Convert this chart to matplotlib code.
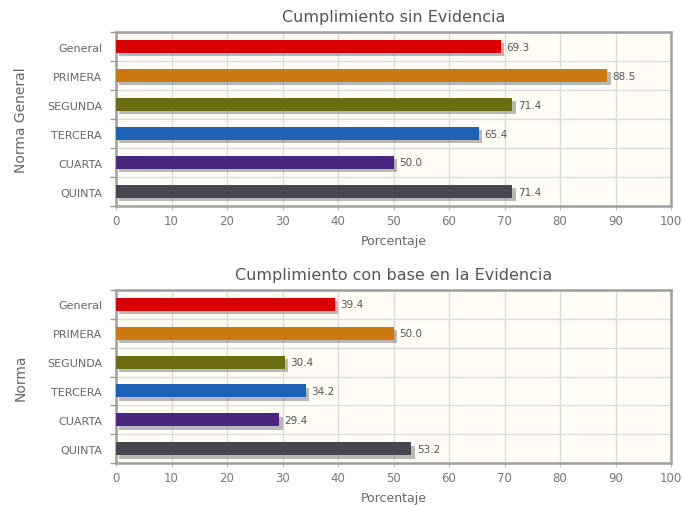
import matplotlib.pyplot as plt
import matplotlib.patheffects as pe
import numpy as np

# Data
categorias = ["General", "PRIMERA", "SEGUNDA", "TERCERA", "CUARTA", "QUINTA"]
sin_evidencia = [69.3, 88.5, 71.4, 65.4, 50.0, 71.4]
con_evidencia = [39.4, 50.0, 30.4, 34.2, 29.4, 53.2]
colores = ["#d80000", "#cc7a10", "#6b6e10", "#1e62b6", "#4a2683", "#48464f"]
x_ticks = list(range(0, 101, 10))

paneles = [
    ("Cumplimiento sin Evidencia", "Norma General", sin_evidencia),
    ("Cumplimiento con base en la Evidencia", "Norma", con_evidencia),
]

fig = plt.figure(figsize=(6.82, 5.06), dpi=100)
W, H = 682, 506
# axes boxes in pixels: left, top, right, bottom
boxes = [(116, 33, 671, 207), (116, 291, 671, 464)]

shadow = [pe.SimplePatchShadow(offset=(2.5, -2.5), shadow_rgbFace="#666666", alpha=0.45),
          pe.Normal()]

for (titulo, ylabel, valores), (l, t, r, b) in zip(paneles, boxes):
    ax = fig.add_axes([l / W, 1 - b / H, (r - l) / W, (b - t) / H])
    ax.set_facecolor("#fffdf6")
    y = np.arange(len(categorias))
    bars = ax.barh(y, valores, height=0.45, color=colores, zorder=3)
    for bar in bars:
        bar.set_path_effects(shadow)
    for yi, v in zip(y, valores):
        ax.text(v + 1.0, yi, f"{v:.1f}", va="center", ha="left",
                fontsize=7.5, color="#555555", zorder=4)

    ax.set_xlim(0, 100)
    ax.set_ylim(len(categorias) - 0.5, -0.5)
    ax.set_xticks(x_ticks)
    ax.set_yticks(y)
    ax.set_yticklabels(categorias)
    ax.set_yticks(np.arange(-0.5, len(categorias), 1.0), minor=True)
    ax.grid(True, axis="x", which="major", color="#dcdcdc", linewidth=1, zorder=0)
    ax.grid(True, axis="y", which="minor", color="#dcdcdc", linewidth=1, zorder=0)
    ax.tick_params(axis="y", which="major", length=0, pad=10, labelsize=8,
                   labelcolor="#666666")
    ax.tick_params(axis="y", which="minor", length=4, color="#999999", width=1)
    ax.tick_params(axis="x", which="major", length=3, color="#bbbbbb",
                   labelsize=8.5, labelcolor="#777777", pad=3)
    for s in ax.spines.values():
        s.set_color("#a0a0a0")
        s.set_linewidth(1.8)

    ax.set_title(titulo, fontsize=11.5, color="#555555", pad=8)
    ax.set_xlabel("Porcentaje", fontsize=9, color="#666666", labelpad=5)
    ax.set_ylabel(ylabel, fontsize=10, color="#666666", labelpad=14,
                  fontfamily=["Liberation Sans Narrow", "DejaVu Sans"])

fig.savefig("out.png", dpi=100, facecolor="white")
